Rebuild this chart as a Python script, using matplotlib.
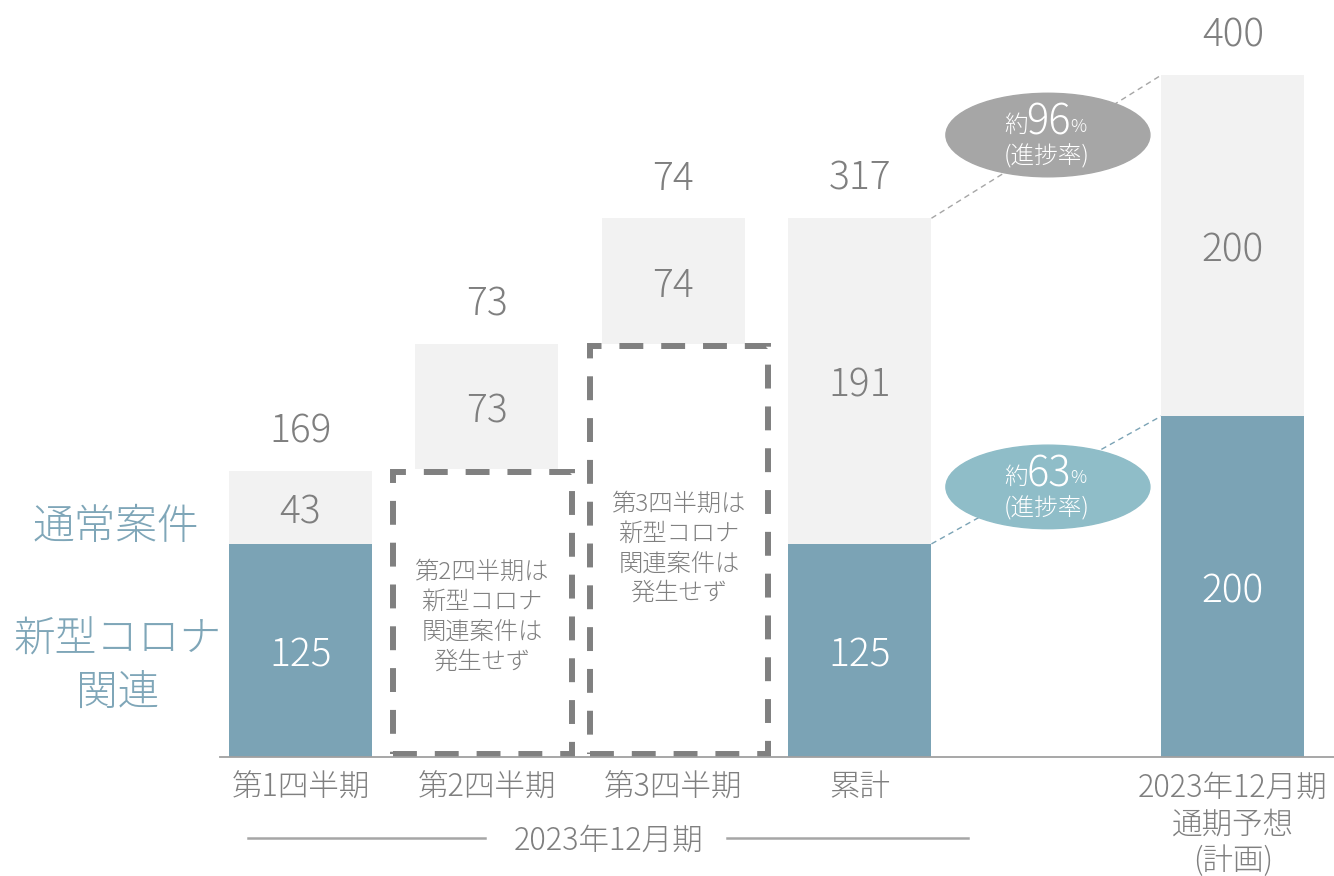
import matplotlib
matplotlib.use("Agg")
import matplotlib.pyplot as plt
from matplotlib.patches import Ellipse, Rectangle

plt.rcParams['font.family'] = ['Noto Sans CJK JP', 'DejaVu Sans']

# Dados
categorias = ["第1四半期", "第2四半期", "第3四半期", "累計", "2023年12月期\n通期予想\n(計画)"]
posicoes = [0, 1, 2, 3, 5]
corona = [125, 0, 0, 125, 200]
normal = [43, 73, 74, 191, 200]
base_normal = [125, 169, 242, 125, 200]
totais = ["169", "73", "74", "317", "400"]
rotulo_normal = ["43", "73", "74", "191", "200"]
rotulo_corona = ["125", "", "", "125", "200"]
# caixas tracejadas (Q2 e Q3 sem casos corona)
caixa_esq = [0.497, 1.552]
caixa_dir = [1.456, 2.507]
caixa_topo = [167, 241]
caixa_texto = ["第2四半期は\n新型コロナ\n関連案件は\n発生せず", "第3四半期は\n新型コロナ\n関連案件は\n発生せず"]
caixa_texto_x = [0.973, 2.03]
caixa_texto_y = [82, 122]
progresso = ["96", "63"]

azul = "#7ba3b5"
cinza_claro = "#f2f2f2"
cinza_txt = "#7f7f7f"

fig = plt.figure(figsize=(13.34, 8.76), dpi=100)
ax = fig.add_axes([0, 0, 1, 1])
ax.set_xlim(-1.611, 5.542)
ax.set_ylim(-69.8, 444.0)
ax.axis("off")

largura = 0.767
ax.bar(posicoes, corona, width=largura, color=azul, zorder=2)
ax.bar(posicoes, normal, bottom=base_normal, width=largura, color=cinza_claro, zorder=2)

# Rótulos
for i, x in enumerate(posicoes):
    topo = base_normal[i] + normal[i]
    ax.text(x, topo + 23, totais[i], ha="center", va="center", fontsize=28,
            color=cinza_txt, fontweight="light")
    ax.text(x, base_normal[i] + normal[i] / 2 - 3, rotulo_normal[i], ha="center", va="center",
            fontsize=28, color=cinza_txt, fontweight="light", zorder=3)
    if rotulo_corona[i]:
        ax.text(x, corona[i] / 2 - 3, rotulo_corona[i], ha="center", va="center",
                fontsize=28, color="white", fontweight="light", zorder=3)

# Caixas tracejadas
for e, d, topo in zip(caixa_esq, caixa_dir, caixa_topo):
    r = Rectangle((e, 1.5), d - e, topo - 1.5, fill=False, edgecolor="#808080",
                  lw=4.3, linestyle=(0, (4, 3)), zorder=4)
    ax.add_patch(r)
for tx, ty, txt in zip(caixa_texto_x, caixa_texto_y, caixa_texto):
    ax.text(tx, ty, txt, ha="center", va="center", fontsize=17.5, color=cinza_txt,
            fontweight="light", linespacing=1.25, zorder=4)

# Linha base
ax.plot([-0.43, 5.6], [0, 0], color="#a0a0a0", lw=1.3, zorder=5)

# Linhas de ligação
x0 = 3 + largura / 2
x1 = 5 - largura / 2
ax.plot([x0, x1], [316, 400], color="#a6a6a6", lw=1, linestyle=(0, (4, 3)), zorder=1)
ax.plot([x0, x1], [125, 200], color=azul, lw=1, linestyle=(0, (4, 3)), zorder=1)

# Elipses de progresso
for cy, cor, p in zip([364.8, 158.4], ["#a6a6a6", "#8fbdc8"], progresso):
    ax.add_patch(Ellipse((4.008, cy), 1.094, 49.0, color=cor, zorder=6))
    ax.text(4.01, cy + 7, p, ha="center", va="center", fontsize=30, color="white",
            fontweight="light", zorder=7)
    ax.text(3.9, cy + 5.5, "約", ha="right", va="center", fontsize=17, color="white",
            fontweight="light", zorder=7)
    ax.text(4.13, cy + 5, "%", ha="left", va="center", fontsize=13, color="white",
            fontweight="light", zorder=7)
    ax.text(4.0, cy - 13, "(進捗率)", ha="center", va="center", fontsize=17,
            color="white", fontweight="light", zorder=7)

# Categorias
for x, c in zip(posicoes, categorias):
    ax.text(x, -8.5, c, ha="center", va="top", fontsize=22, color=cinza_txt,
            fontweight="light", linespacing=1.2)

# Período
ax.text(1.65, -49, "2023年12月期", ha="center", va="center", fontsize=22,
        color=cinza_txt, fontweight="light")
ax.plot([-0.282, 0.99], [-47.5, -47.5], color="#a6a6a6", lw=1.8)
ax.plot([2.287, 3.579], [-47.5, -47.5], color="#a6a6a6", lw=1.8)

# Legenda lateral
cor_leg = "#7fa6b8"
ax.text(-0.989, 135, "通常案件", ha="center", va="center", fontsize=30, color=cor_leg,
        fontweight="light")
ax.text(-0.982, 53, "新型コロナ\n関連", ha="center", va="center", fontsize=30,
        color=cor_leg, fontweight="light", linespacing=1.3)

fig.savefig("out.png", dpi=100)
